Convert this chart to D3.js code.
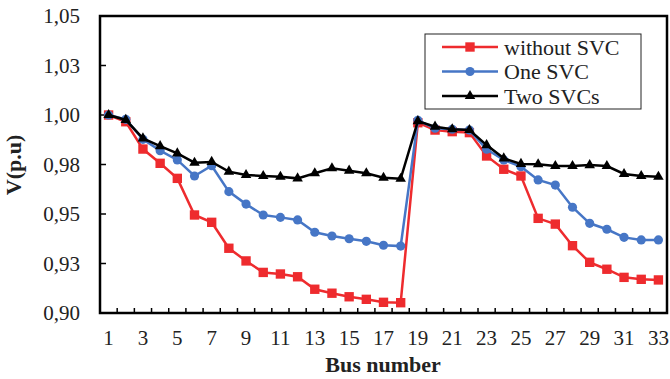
<!DOCTYPE html>
<html>
<head>
<meta charset="utf-8">
<script src="https://cdn.jsdelivr.net/npm/d3@7"></script>
<style>
  body { margin: 0; background: #fff; }
  svg { font-family: "Liberation Serif", "Times New Roman", serif; }
  .frame { fill: none; stroke: #000; stroke-width: 2.5; }
  .tick line { stroke: #000; stroke-width: 1.5; }
  .tick text { font-size: 21px; fill: #222; }
  .title { font-size: 22px; font-weight: bold; fill: #222; }
  .legend text { font-size: 22px; fill: #222; }
</style>
</head>
<body>
<svg id="chart" width="670" height="379"></svg>
<script>
// bus numbers and voltage profiles (p.u.)
var buses = d3.range(1, 34);
var withoutSVC = [1.000, 0.9966, 0.9828, 0.9756, 0.9680, 0.9495, 0.9458, 0.9327, 0.9263, 0.9205, 0.9197,
                  0.9183, 0.9120, 0.9100, 0.9082, 0.9069, 0.9054, 0.9052, 0.9961, 0.9924, 0.9916, 0.9911,
                  0.9793, 0.9726, 0.9692, 0.9478, 0.9449, 0.9340, 0.9256, 0.9221, 0.9180, 0.9170, 0.9167];
var oneSVC     = [1.000, 0.9978, 0.9877, 0.9820, 0.9773, 0.9692, 0.9744, 0.9613, 0.9550, 0.9495, 0.9483,
                  0.9470, 0.9408, 0.9389, 0.9375, 0.9362, 0.9342, 0.9338, 0.9973, 0.9933, 0.9928, 0.9924,
                  0.9827, 0.9773, 0.9739, 0.9672, 0.9646, 0.9534, 0.9453, 0.9423, 0.9382, 0.9369, 0.9369];
var twoSVCs    = [1.000, 0.9975, 0.9882, 0.9843, 0.9806, 0.9759, 0.9763, 0.9714, 0.9697, 0.9692, 0.9688,
                  0.9680, 0.9706, 0.9731, 0.9719, 0.9706, 0.9683, 0.9678, 0.9969, 0.9941, 0.9928, 0.9924,
                  0.9848, 0.9781, 0.9753, 0.9751, 0.9742, 0.9742, 0.9747, 0.9742, 0.9702, 0.9692, 0.9688];
var yTicks = [0.900, 0.925, 0.950, 0.975, 1.000, 1.025, 1.050];
var yTickLabels = ["0,90", "0,93", "0,95", "0,98", "1,00", "1,03", "1,05"];
var seriesNames = ["without SVC", "One SVC", "Two SVCs"];

var series = [
    {name: seriesNames[0], values: withoutSVC, color: "#ee2b2e", marker: d3.symbolSquare, size: 88},
    {name: seriesNames[1], values: oneSVC, color: "#4676c6", marker: d3.symbolCircle, size: 66},
    {name: seriesNames[2], values: twoSVCs, color: "#000000", marker: d3.symbolTriangle, size: 48}
];

var svg = d3.select("#chart");
var margin = {left: 100, right: 667, top: 16, bottom: 313}; //plot frame edges in px

//Category axis: every bus gets a band, ticks sit between bands.
var xBand = d3.scaleBand().domain(buses).range([margin.left, margin.right]);
var xC = function(d) { return xBand(d) + xBand.bandwidth() / 2; };
var y = d3.scaleLinear().domain([0.9, 1.05]).range([margin.bottom, margin.top]);

// y axis ticks (inside)
var yAxis = svg.append("g").selectAll(".tick").data(yTicks).enter()
    .append("g").attr("class", "tick")
    .attr("transform", function(d) { return "translate(0," + y(d) + ")"; });
yAxis.append("line").attr("x1", margin.left).attr("x2", margin.left + 6);
yAxis.append("text").attr("x", 80).attr("dy", "0.35em")
    .style("text-anchor", "end")
    .text(function(d, i) { return yTickLabels[i]; });

// x axis ticks (inside, at band boundaries)
svg.append("g").selectAll("line").data(buses.slice(1)).enter()
    .append("g").attr("class", "tick").append("line")
    .attr("x1", function(d) { return xBand(d); })
    .attr("x2", function(d) { return xBand(d); })
    .attr("y1", margin.bottom).attr("y2", margin.bottom - 5);

svg.append("g").selectAll("text").data(buses.filter(function(d) { return d % 2 == 1; })).enter()
    .append("g").attr("class", "tick").append("text")
    .attr("x", xC).attr("y", 345)
    .style("text-anchor", "middle")
    .text(function(d) { return d; });

// lines and markers
var line = d3.line()
    .x(function(d, i) { return xC(buses[i]); })
    .y(function(d) { return y(d); });

series.forEach(function(s) {
    var g = svg.append("g");
    g.append("path").datum(s.values)
        .attr("d", line)
        .attr("fill", "none")
        .attr("stroke", s.color)
        .attr("stroke-width", 2.5);
    g.selectAll("path.m").data(s.values).enter()
        .append("path").attr("class", "m")
        .attr("transform", function(d, i) { return "translate(" + xC(buses[i]) + "," + y(d) + ")"; })
        .attr("d", d3.symbol().type(s.marker).size(s.size))
        .attr("fill", s.color);
});

// frame
svg.append("rect").attr("class", "frame")
    .attr("x", margin.left).attr("y", margin.top)
    .attr("width", margin.right - margin.left).attr("height", margin.bottom - margin.top);

// axis titles
svg.append("text").attr("class", "title")
    .attr("x", 383).attr("y", 372)
    .style("text-anchor", "middle")
    .text("Bus number");
svg.append("text").attr("class", "title")
    .attr("transform", "translate(21,165) rotate(-90)")
    .style("text-anchor", "middle")
    .text("V(p.u)");

// legend
var legend = svg.append("g").attr("class", "legend");
legend.append("rect")
    .attr("x", 425).attr("y", 34).attr("width", 216).attr("height", 75)
    .attr("fill", "#fff").attr("stroke", "#222").attr("stroke-width", 1);
var item = legend.selectAll("g.item").data(series).enter()
    .append("g").attr("class", "item")
    .attr("transform", function(d, i) { return "translate(0," + (47 + i * 24.5) + ")"; });
item.append("line")
    .attr("x1", 442).attr("x2", 498)
    .attr("stroke", function(d) { return d.color; })
    .attr("stroke-width", 2.5);
item.append("path")
    .attr("transform", "translate(470,0)")
    .attr("d", function(d) { return d3.symbol().type(d.marker).size(d.size)(); })
    .attr("fill", function(d) { return d.color; });
item.append("text")
    .attr("x", 504).attr("dy", "0.35em")
    .text(function(d) { return d.name; });
</script>
</body>
</html>
